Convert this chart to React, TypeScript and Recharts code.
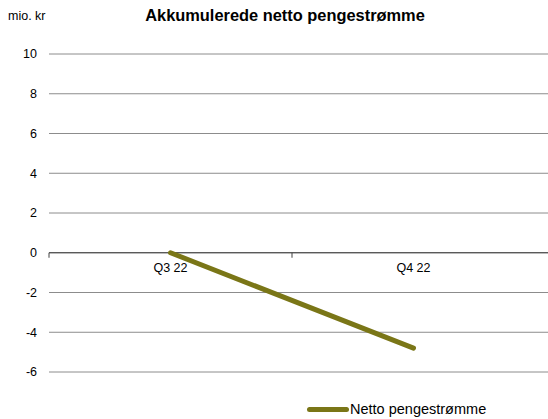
import React from 'react';
import { LineChart, Line, XAxis, YAxis, CartesianGrid, ReferenceLine } from 'recharts';

const categories = ['Q3 22', 'Q4 22'];
const values = [0, -4.8];
const yTicks = [-6, -4, -2, 0, 2, 4, 6, 8, 10];
const title = 'Akkumulerede netto pengestrømme';
const yLabel = 'mio. kr';
const seriesName = 'Netto pengestrømme';

const data = categories.map((c, i) => ({ name: c, value: values[i] }));

const W = 548;
const H = 419;
const TOP = 54;
const BOTTOM = 47;
const PLOT_H = H - TOP - BOTTOM;
const Y_MIN = -6;
const Y_MAX = 10;
const FONT = '"Liberation Sans", Arial, sans-serif';
const OLIVE = '#7a7617';

const zeroY = TOP + (PLOT_H * (Y_MAX - 0)) / (Y_MAX - Y_MIN);

const CatTick = (props: any) => {
  const { x, payload } = props;
  const half = payload && payload.offset ? payload.offset : 121.5;
  const left = x - half;
  return (
    <g>
      <line x1={left} x2={left} y1={zeroY} y2={zeroY + 5} stroke="#404040" />
      <text x={x} y={zeroY + 19} textAnchor="middle" fontSize={12.5} fontFamily={FONT} fill="#000">
        {payload.value}
      </text>
    </g>
  );
};

export default function App() {
  return (
    <div style={{ position: 'absolute', left: 0, top: 0, width: W, height: H, background: '#fff', fontFamily: FONT }}>
      <LineChart width={W} height={H} data={data} margin={{ top: TOP, right: 0, bottom: BOTTOM - 1, left: 0 }}>
        <CartesianGrid vertical={false} stroke="#8c8c8c" />
        <XAxis
          dataKey="name"
          scale="band"
          axisLine={false}
          tickLine={false}
          height={1}
          padding={{ left: 0, right: 13 }}
          tick={<CatTick />}
          interval={0}
        />
        <YAxis
          domain={[Y_MIN, Y_MAX]}
          ticks={yTicks}
          axisLine={false}
          tickLine={false}
          width={49}
          tickMargin={6}
          tick={{ fontSize: 12.5, fill: '#000', fontFamily: FONT }}
          interval={0}
        />
        <ReferenceLine y={0} stroke="#404040" strokeWidth={1} />
        <Line
          type="linear"
          dataKey="value"
          name={seriesName}
          stroke={OLIVE}
          strokeWidth={5}
          strokeLinecap="round"
          dot={false}
          activeDot={false}
          isAnimationActive={false}
        />
      </LineChart>
      <div style={{ position: 'absolute', left: 8, top: 9, fontSize: 12.5, color: '#000' }}>{yLabel}</div>
      <div style={{ position: 'absolute', left: 0, width: 570, top: 6, textAlign: 'center', fontSize: 16.4, fontWeight: 'bold', color: '#000' }}>{title}</div>
      <div style={{ position: 'absolute', left: 307, top: 401, display: 'flex', alignItems: 'center', fontSize: 14.5, color: '#000' }}>
        <span style={{ display: 'inline-block', width: 42, height: 5, borderRadius: 3, background: OLIVE }} />
        <span style={{ marginLeft: 1 }}>{seriesName}</span>
      </div>
    </div>
  );
}
